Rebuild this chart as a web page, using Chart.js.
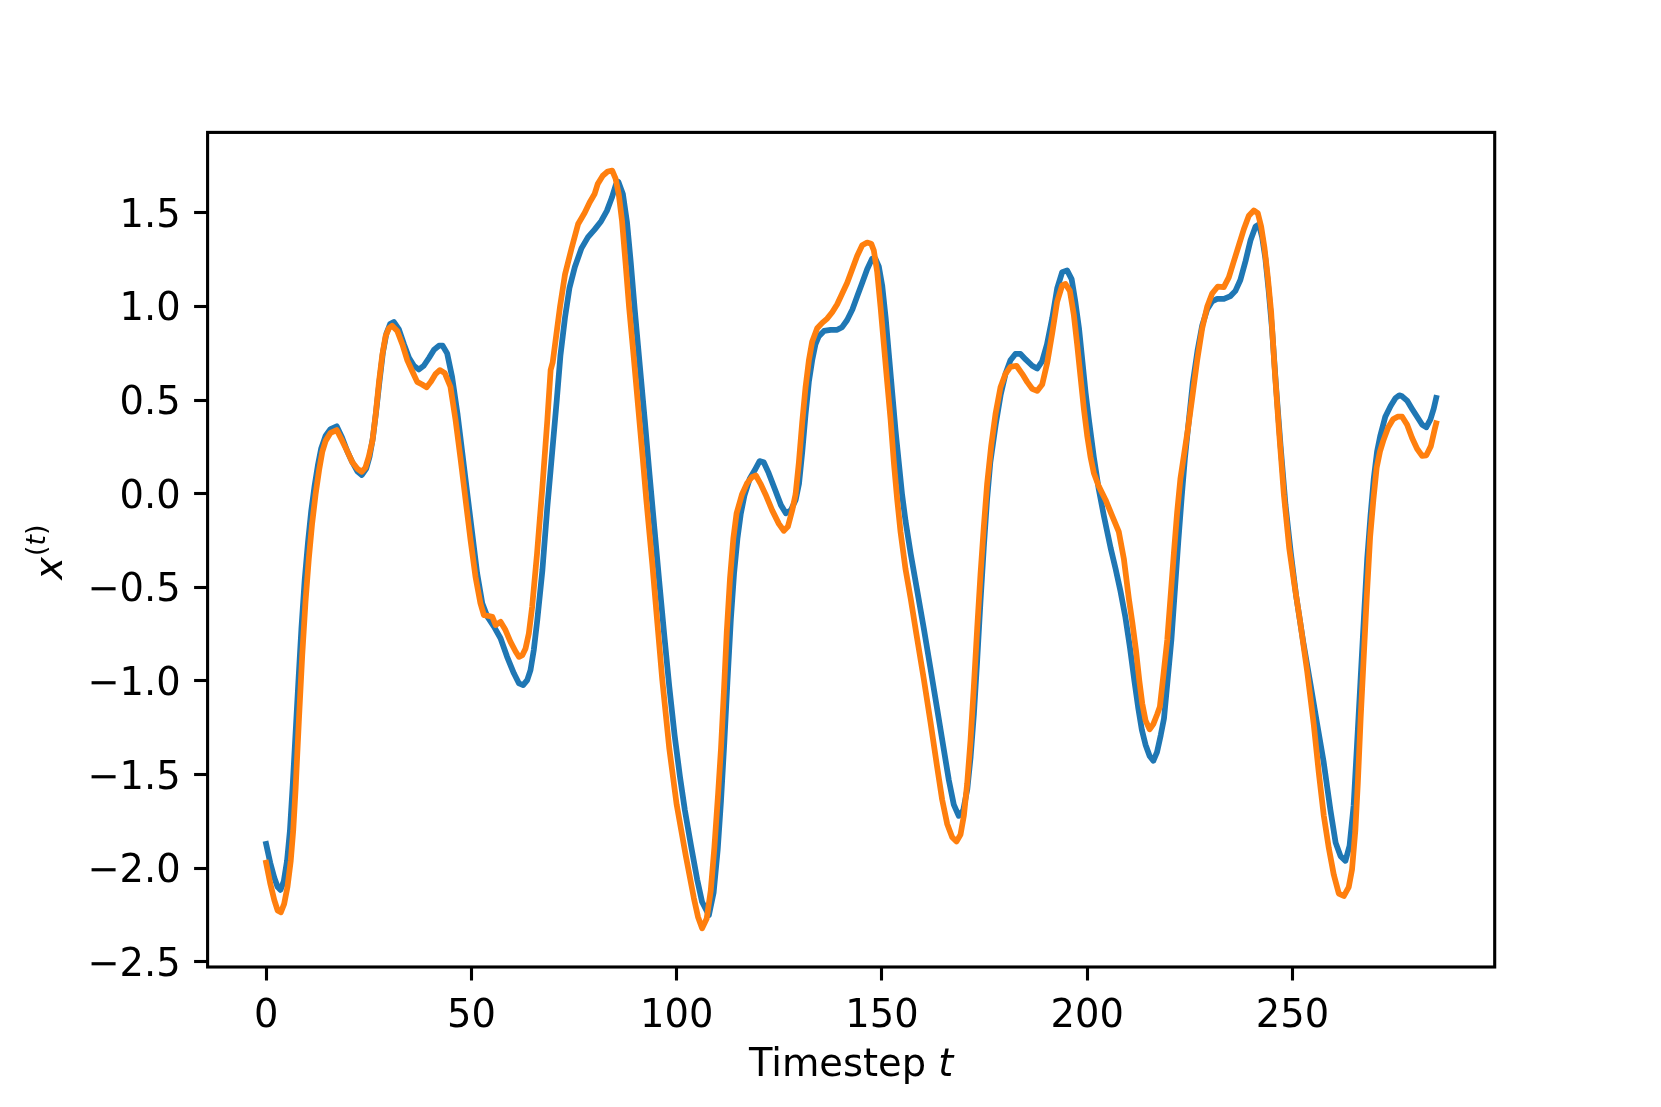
<!DOCTYPE html>
<html>
<head>
<meta charset="utf-8">
<title>x(t) vs timestep</title>
<script src="https://cdn.jsdelivr.net/npm/chart.js@4/dist/chart.umd.min.js"></script>
<style>
  html, body { margin: 0; padding: 0; background: #fff; }
  #wrap { width: 1661px; height: 1107px; }
</style>
</head>
<body>
<div id="wrap"><canvas id="chart" width="1661" height="1107"></canvas></div>
<script>
// values (timestep, value)
const blueT = [0, 1, 2, 2.8, 3.5, 4.3, 5.1, 5.8, 6.5, 7.2, 7.9, 8.6, 9.4, 10.2, 11.0, 11.8, 12.6, 13.4, 14.5, 15.7, 17.2, 18.5, 19.8, 21.0,
  22.2, 23.3, 24.4, 25.2, 26.0, 26.8, 27.6, 28.45, 29.3, 30.2, 31.1, 32.35, 33.6, 34.8, 36.0, 37.2, 38.4, 39.7, 40.9, 42.1,
  43.0, 44.1, 45.3, 46.6, 47.8, 49.0, 50.2, 51.4, 52.65, 53.9, 55.5, 57.1, 58.7, 60.35, 61.6, 62.6, 63.6, 64.4, 65.2, 66.05,
  67.3, 68.5, 69.3, 70.8, 71.7, 72.8, 73.9, 75.2, 76.8, 78.4, 80.0, 81.6, 83.0, 84.2, 85.2, 85.8, 86.9, 87.9, 88.8, 89.8,
  91.0, 92.2, 93.4, 94.6, 95.8, 97.0, 98.2, 99.5, 100.8, 102.0, 103.5, 105.0, 106.2, 107.85, 109.0, 110.0, 110.8, 111.6, 112.4, 113.2,
  114.0, 114.8, 115.6, 116.5, 117.8, 119.0, 120.2, 121.2, 122.4, 123.9, 125.4, 126.6, 127.8, 129.0, 129.8, 130.6, 131.4, 132.2, 133.0, 133.8,
  134.6, 135.9, 137.5, 139.1, 140.3, 141.5, 142.8, 144.0, 145.2, 146.4, 147.6, 148.4, 149.25, 150.06, 150.9, 151.7, 152.5, 153.3, 154.1, 154.9,
  155.75, 157.0, 158.6, 160.2, 161.8, 163.45, 165.1, 166.3, 167.5, 168.7, 169.8, 170.8, 171.6, 172.4, 173.2, 174.0, 174.8, 175.6, 176.4, 177.7,
  178.9, 180.1, 181.3, 182.5, 183.75, 185.0, 186.6, 187.8, 189.0, 190.2, 191.5, 192.7, 193.9, 195.1, 196.2, 197.1, 198.0, 198.8, 199.6, 200.4,
  201.6, 202.8, 204.05, 205.7, 206.9, 208.1, 209.3, 210.4, 211.5, 212.4, 213.3, 214.2, 215.2, 216.1, 217.0, 217.9, 218.7, 219.6, 220.5, 221.4,
  222.2, 223.0, 223.8, 224.6, 225.7, 226.9, 228.0, 229.2, 230.4, 231.65, 233.3, 234.9, 236.1, 237.3, 238.55, 239.8, 241.0, 241.8, 242.6, 243.4,
  244.2, 245.0, 246.0, 247.1, 248.3, 249.6, 250.9, 252.6, 254.4, 256.0, 257.6, 259.25, 260.5, 261.7, 262.9, 263.9, 264.9, 265.7, 266.55, 267.4,
  268.2, 269.0, 269.8, 270.6, 271.4, 272.6, 273.9, 275.1, 276.0, 276.7, 277.9, 279.1, 280.35, 281.6, 282.6, 283.6, 284.4, 285];
const blueX = [-1.87, -1.97, -2.05, -2.10, -2.115, -2.07, -1.96, -1.80, -1.55, -1.27, -0.99, -0.72, -0.46, -0.26, -0.09, 0.04, 0.15, 0.24, 0.31, 0.345, 0.36, 0.30, 0.225, 0.168,
  0.12, 0.10, 0.134, 0.197, 0.297, 0.44, 0.597, 0.754, 0.855, 0.906, 0.917, 0.877, 0.797, 0.726, 0.683, 0.663, 0.683, 0.726, 0.769, 0.79,
  0.79, 0.749, 0.624, 0.429, 0.215, 0.0, -0.212, -0.425, -0.585, -0.657, -0.71, -0.772, -0.871, -0.959, -1.013, -1.022, -0.995, -0.942, -0.835, -0.675,
  -0.408, -0.07, 0.126, 0.50, 0.74, 0.94, 1.10, 1.21, 1.31, 1.37, 1.41, 1.455, 1.51, 1.58, 1.65, 1.665, 1.60, 1.45, 1.24, 0.98,
  0.69, 0.40, 0.10, -0.19, -0.48, -0.76, -1.03, -1.29, -1.51, -1.69, -1.88, -2.06, -2.18, -2.25, -2.13, -1.90, -1.64, -1.33, -0.99, -0.67,
  -0.42, -0.24, -0.11, -0.01, 0.08, 0.125, 0.174, 0.168, 0.111, 0.025, -0.061, -0.104, -0.089, -0.032, 0.054, 0.225, 0.426, 0.597, 0.711, 0.797,
  0.84, 0.869, 0.875, 0.875, 0.889, 0.926, 0.983, 1.055, 1.126, 1.198, 1.255, 1.255, 1.212, 1.112, 0.94, 0.74, 0.54, 0.34, 0.168, -0.004,
  -0.146, -0.32, -0.52, -0.72, -0.93, -1.15, -1.37, -1.53, -1.66, -1.72, -1.691, -1.577, -1.405, -1.176, -0.89, -0.576, -0.29, -0.032, 0.168, 0.368,
  0.526, 0.64, 0.712, 0.746, 0.746, 0.717, 0.683, 0.668, 0.706, 0.797, 0.94, 1.098, 1.183, 1.192, 1.146, 1.026, 0.883, 0.712, 0.54, 0.397,
  0.197, 0.025, -0.118, -0.29, -0.40, -0.52, -0.66, -0.82, -1.00, -1.14, -1.26, -1.34, -1.40, -1.426, -1.38, -1.29, -1.20, -0.99, -0.78, -0.50,
  -0.25, -0.02, 0.19, 0.36, 0.59, 0.769, 0.898, 0.983, 1.026, 1.04, 1.04, 1.055, 1.083, 1.141, 1.241, 1.355, 1.427, 1.437, 1.37, 1.255,
  1.083, 0.883, 0.57, 0.254, -0.061, -0.318, -0.547, -0.79, -1.02, -1.23, -1.434, -1.691, -1.863, -1.935, -1.96, -1.88, -1.663, -1.348, -1.005, -0.662,
  -0.347, -0.118, 0.082, 0.225, 0.311, 0.411, 0.468, 0.511, 0.525, 0.52, 0.497, 0.454, 0.411, 0.368, 0.355, 0.397, 0.454, 0.511];

const orangeT = [0, 1, 2, 2.8, 3.6, 4.4, 5.2, 6.0, 6.6, 7.2, 8.0, 8.8, 9.6, 10.4, 11.2, 12.05, 12.9, 13.7, 14.5, 15.7, 17.2, 18.55, 19.8, 21.0,
  22.2, 23.3, 24.2, 25.0, 25.9, 26.7, 27.5, 28.3, 29.1, 29.9, 30.7, 31.95, 33.2, 34.4, 35.6, 36.8, 38.0, 39.1, 40.1, 41.3,
  42.3, 43.5, 44.9, 46.15, 47.4, 48.6, 49.8, 51.0, 52.2, 53.05, 54.27, 55.1, 55.9, 57.1, 58.3, 59.5, 60.8, 61.6, 62.4, 63.2,
  64.0, 64.8, 66.0, 67.3, 68.5, 69.3, 69.8, 70.7, 71.6, 72.8, 74.4, 76.0, 77.6, 78.8, 80.0, 80.8, 82.0, 83.2, 84.3, 85.1,
  85.9, 86.7, 87.6, 88.4, 89.5, 90.6, 91.7, 92.6, 94.06, 95.3, 96.5, 98.2, 100.0, 102.2, 104.2, 105.2, 106.2, 107.3, 108.3, 109.2,
  110.1, 110.8, 111.5, 112.2, 113.0, 113.8, 114.6, 115.9, 117.1, 118.3, 119.3, 120.4, 121.65, 123.27, 124.9, 126.1, 127.1, 128.14, 128.96, 129.77,
  130.58, 131.39, 132.2, 133.0, 134.23, 135.45, 136.67, 137.89, 139.1, 140.32, 141.54, 142.76, 143.98, 145.19, 146.41, 147.38, 148.03, 148.85, 149.66, 150.47,
  151.28, 152.1, 152.9, 153.72, 154.53, 155.75, 157.0, 158.4, 160.2, 161.83, 163.45, 164.67, 165.89, 167.11, 168.16, 169.14, 169.95, 170.76, 171.57, 172.38,
  173.2, 174.0, 174.82, 175.63, 176.6, 177.66, 178.88, 180.1, 181.3, 182.77, 184.16, 185.37, 186.59, 187.81, 189.03, 190.24, 191.46, 192.68, 193.9, 194.71,
  195.77, 196.74, 197.55, 198.36, 199.18, 199.99, 200.8, 201.61, 202.83, 204.45, 206.08, 207.7, 208.92, 210.14, 211.0, 211.9, 212.7, 213.4, 214.2, 215.2,
  216.1, 217.0, 217.7, 218.6, 219.5, 220.3, 221.1, 221.9, 222.7, 223.7, 224.5, 225.56, 226.78, 228.0, 229.21, 230.43, 231.81, 233.27, 234.49, 235.71,
  236.92, 238.14, 239.36, 240.58, 241.55, 242.36, 243.18, 243.99, 244.8, 245.6, 246.7, 247.9, 249.2, 250.5, 251.9, 253.57, 255.19, 256.41, 257.63, 258.84,
  260.06, 261.28, 262.5, 263.7, 264.5, 265.3, 265.9, 266.6, 267.4, 268.1, 268.9, 269.7, 270.5, 271.3, 272.1, 273.3, 274.5, 275.6, 276.7, 277.92,
  279.13, 280.35, 281.57, 282.6, 283.7, 284.6, 285];
const orangeX = [-1.97, -2.08, -2.17, -2.225, -2.235, -2.19, -2.10, -1.96, -1.80, -1.57, -1.205, -0.862, -0.576, -0.347, -0.161, -0.004, 0.125, 0.225, 0.282, 0.325, 0.34, 0.282, 0.225, 0.168,
  0.134, 0.117, 0.139, 0.197, 0.282, 0.425, 0.597, 0.74, 0.84, 0.883, 0.897, 0.869, 0.797, 0.712, 0.654, 0.597, 0.583, 0.568, 0.597, 0.64,
  0.66, 0.645, 0.571, 0.393, 0.18, -0.034, -0.248, -0.443, -0.585, -0.648, -0.653, -0.657, -0.701, -0.684, -0.728, -0.79, -0.844, -0.871, -0.862, -0.826,
  -0.746, -0.604, -0.318, 0.037, 0.393, 0.66, 0.70, 0.85, 1.0, 1.17, 1.31, 1.44, 1.50, 1.555, 1.60, 1.655, 1.698, 1.72, 1.725, 1.684,
  1.598, 1.455, 1.22, 1.0, 0.74, 0.47, 0.20, -0.03, -0.372, -0.69, -0.995, -1.36, -1.66, -1.93, -2.16, -2.26, -2.32, -2.27, -2.12, -1.885,
  -1.60, -1.36, -1.06, -0.74, -0.45, -0.24, -0.104, -0.004, 0.054, 0.088, 0.097, 0.054, -0.004, -0.089, -0.161, -0.198, -0.175, -0.089, -0.004, 0.168,
  0.382, 0.568, 0.711, 0.811, 0.883, 0.912, 0.935, 0.969, 1.012, 1.069, 1.126, 1.198, 1.27, 1.326, 1.341, 1.335, 1.298, 1.183, 0.998, 0.797,
  0.597, 0.397, 0.168, -0.032, -0.204, -0.404, -0.56, -0.75, -0.99, -1.22, -1.46, -1.634, -1.763, -1.834, -1.857, -1.82, -1.72, -1.548, -1.319, -1.033,
  -0.719, -0.433, -0.175, 0.054, 0.254, 0.425, 0.568, 0.64, 0.677, 0.683, 0.64, 0.597, 0.56, 0.549, 0.583, 0.697, 0.855, 1.026, 1.112, 1.12,
  1.083, 0.955, 0.797, 0.626, 0.454, 0.311, 0.197, 0.111, 0.039, -0.032, -0.118, -0.204, -0.347, -0.56, -0.69, -0.84, -1.0, -1.12, -1.21, -1.258,
  -1.23, -1.18, -1.137, -0.96, -0.78, -0.55, -0.32, -0.10, 0.08, 0.225, 0.34, 0.511, 0.712, 0.883, 0.998, 1.069, 1.106, 1.103, 1.155, 1.241,
  1.326, 1.412, 1.484, 1.512, 1.498, 1.427, 1.312, 1.155, 0.969, 0.683, 0.34, -0.004, -0.29, -0.49, -0.69, -0.947, -1.234, -1.491, -1.72, -1.892,
  -2.035, -2.135, -2.148, -2.10, -2.006, -1.80, -1.55, -1.20, -0.85, -0.547, -0.233, -0.032, 0.139, 0.225, 0.282, 0.354, 0.397, 0.411, 0.411, 0.368,
  0.297, 0.24, 0.202, 0.205, 0.254, 0.34, 0.376];

const xTicks = [0, 50, 100, 150, 200, 250];
const yTicks = [-2.5, -2.0, -1.5, -1.0, -0.5, 0.0, 0.5, 1.0, 1.5];

const FONT = '"DejaVu Sans", "Liberation Sans", sans-serif';
const FS = 38.4;          // 10pt at ~277 dpi
const LW = 5.77;          // 1.5pt line
const SPINE = 3.1;        // 0.8pt axes line

function toPoints(ts, vs) {
  return ts.map((t, i) => ({ x: t, y: vs[i] }));
}

function fmtY(v) {
  const s = Math.abs(v).toFixed(1);
  return v < 0 ? '\u2212' + s : s;
}

function series(ts, vs, color, order) {
  return {
    data: toPoints(ts, vs),
    borderColor: color,
    backgroundColor: color,
    borderWidth: LW,
    borderJoinStyle: 'round',
    borderCapStyle: 'square',
    tension: 0,
    fill: false,
    order: order
  };
}

// frame + axis titles (mathtext-like superscript for x^(t))
const frameAndTitles = {
  id: 'frameAndTitles',
  afterDraw(chart) {
    const ctx = chart.ctx;
    const a = chart.chartArea;
    ctx.save();
    ctx.strokeStyle = '#000';
    ctx.lineWidth = SPINE;
    ctx.lineJoin = 'miter';
    ctx.strokeRect(a.left, a.top, a.right - a.left, a.bottom - a.top);

    ctx.fillStyle = '#000';
    ctx.textBaseline = 'alphabetic';
    ctx.textAlign = 'left';
    const reg = FS + 'px ' + FONT;
    const ita = 'italic ' + FS + 'px ' + FONT;

    // x title: "Timestep t"
    const parts = [['Timestep ', reg], ['t', ita]];
    let w = 0;
    parts.forEach(p => { ctx.font = p[1]; w += ctx.measureText(p[0]).width; });
    let x = (a.left + a.right) / 2 - w / 2;
    parts.forEach(p => { ctx.font = p[1]; ctx.fillText(p[0], x, 1076); x += ctx.measureText(p[0]).width; });

    // y title: x^(t), rotated
    const sub = FS * 0.7;
    const sreg = sub + 'px ' + FONT;
    const sita = 'italic ' + sub + 'px ' + FONT;
    const sup = [['(', sreg], ['t', sita], [')', sreg]];
    ctx.font = ita;
    const wx = ctx.measureText('x').width;
    let ws = 0;
    sup.forEach(p => { ctx.font = p[1]; ws += ctx.measureText(p[0]).width; });
    const total = wx + 1 + ws;
    ctx.translate(61.5, (a.top + a.bottom) / 2 + 2.5 + total / 2);
    ctx.rotate(-Math.PI / 2);
    ctx.font = ita;
    ctx.fillText('x', 0, 0);
    let sx = wx + 1;
    sup.forEach(p => { ctx.font = p[1]; ctx.fillText(p[0], sx, -16.5); sx += ctx.measureText(p[0]).width; });
    ctx.restore();
  }
};

const ctx = document.getElementById('chart').getContext('2d');
new Chart(ctx, {
  type: 'scatter',
  data: {
    datasets: [
      series(blueT, blueX, '#1f77b4', 2),
      series(orangeT, orangeX, '#ff7f0e', 1)
    ]
  },
  options: {
    responsive: false,
    animation: false,
    devicePixelRatio: 1,
    showLine: true,
    elements: {
      point: { radius: 0, hoverRadius: 0 },
      line: { borderWidth: LW, tension: 0, borderJoinStyle: 'round', borderCapStyle: 'square', fill: false }
    },
    layout: { padding: { left: 0, top: 132.4, right: 1661 - 1494.7, bottom: 0 } },
    plugins: { legend: { display: false }, tooltip: { enabled: false } },
    scales: {
      x: {
        type: 'linear',
        min: -14.25,
        max: 299.25,
        afterBuildTicks: s => { s.ticks = xTicks.map(v => ({ value: v })); },
        afterFit: s => { s.height = 1107 - 967; },
        border: { display: false },
        grid: { drawOnChartArea: false, drawTicks: true, tickLength: 13.5, tickWidth: SPINE, tickColor: '#000' },
        ticks: { color: '#000', font: { family: FONT, size: FS }, padding: 13.5, maxRotation: 0, autoSkip: false }
      },
      y: {
        type: 'linear',
        min: -2.527,
        max: 1.929,
        afterBuildTicks: s => { s.ticks = yTicks.map(v => ({ value: v })); },
        afterFit: s => { s.width = 207.6; },
        border: { display: false },
        grid: { drawOnChartArea: false, drawTicks: true, tickLength: 13.5, tickWidth: SPINE, tickColor: '#000' },
        ticks: { color: '#000', font: { family: FONT, size: FS }, padding: 13.5, labelOffset: 4, autoSkip: false, callback: v => fmtY(v) }
      }
    }
  },
  plugins: [frameAndTitles]
});
</script>
</body>
</html>
